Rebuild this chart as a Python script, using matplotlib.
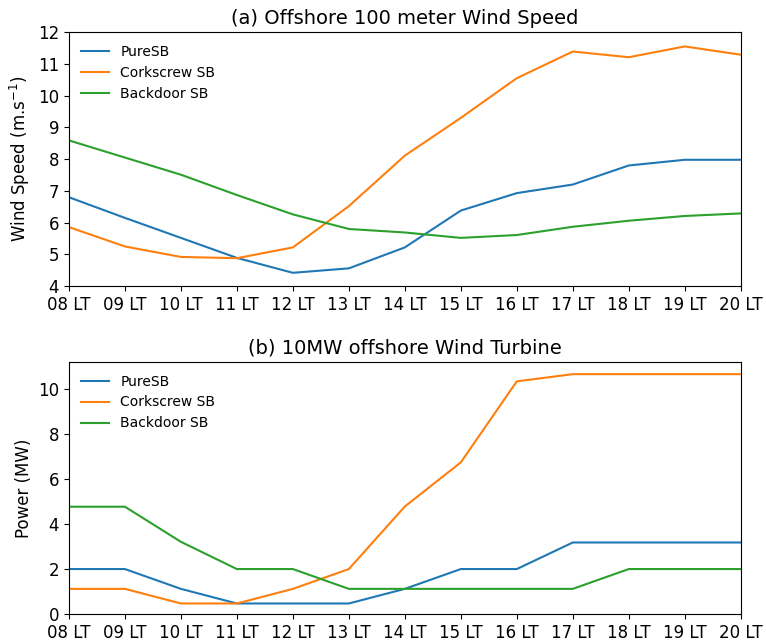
import matplotlib
matplotlib.use("Agg")
import matplotlib.pyplot as plt
import numpy as np

hours = [8, 9, 10, 11, 12, 13, 14, 15, 16, 17, 18, 19, 20]
hour_labels = ["%02d LT" % h for h in hours]

# (a) 100 m wind speed (m/s)
wind_pure = [6.8, 6.15, 5.52, 4.89, 4.42, 4.56, 5.22, 6.38, 6.93, 7.2, 7.8, 7.98, 7.98]
wind_cork = [5.86, 5.25, 4.92, 4.88, 5.22, 6.52, 8.11, 9.3, 10.55, 11.39, 11.21, 11.55, 11.29]
wind_back = [8.59, 8.05, 7.51, 6.87, 6.26, 5.8, 5.69, 5.52, 5.61, 5.87, 6.06, 6.21, 6.29]

# (b) turbine power (MW)
power_pure = [2.0, 2.0, 1.12, 0.47, 0.47, 0.47, 1.12, 2.0, 2.0, 3.18, 3.18, 3.18, 3.18]
power_cork = [1.12, 1.12, 0.47, 0.47, 1.12, 2.0, 4.78, 6.74, 10.34, 10.66, 10.66, 10.66, 10.66]
power_back = [4.77, 4.77, 3.21, 2.0, 2.0, 1.12, 1.12, 1.12, 1.12, 1.12, 2.0, 2.0, 2.0]

fig = plt.figure(figsize=(7.66, 6.43), dpi=100)
ax1 = fig.add_axes([0.090, 0.555, 0.877, 0.395])
ax2 = fig.add_axes([0.090, 0.045, 0.877, 0.392])


def style(ax, title, ylabel):
    ax.set_title(title, fontsize=14)
    ax.set_ylabel(ylabel, fontsize=12)
    ax.set_xlim(8, 20)
    ax.set_xticks(hours)
    ax.set_xticklabels(hour_labels)
    ax.tick_params(labelsize=12)
    ax.legend(loc="upper left", frameon=False, fontsize=10)


ax1.plot(hours, wind_pure, label="PureSB")
ax1.plot(hours, wind_cork, label="Corkscrew SB")
ax1.plot(hours, wind_back, label="Backdoor SB")
ax1.set_ylim(4, 12)
ax1.set_yticks(np.arange(4, 13))
style(ax1, "(a) Offshore 100 meter Wind Speed", "Wind Speed (m.s$^{-1}$)")

ax2.plot(hours, power_pure, label="PureSB")
ax2.plot(hours, power_cork, label="Corkscrew SB")
ax2.plot(hours, power_back, label="Backdoor SB")
ax2.set_ylim(0, 11.2)
ax2.set_yticks([0, 2, 4, 6, 8, 10])
style(ax2, "(b) 10MW offshore Wind Turbine", "Power (MW)")

fig.savefig("out.png", dpi=100)
